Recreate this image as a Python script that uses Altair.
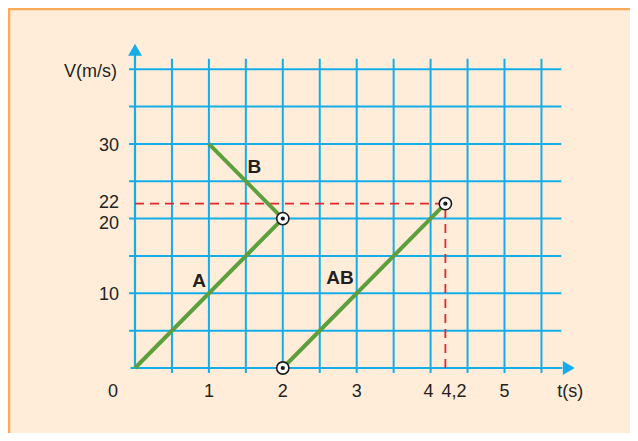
import altair as alt
import pandas as pd

# ---------------- data ----------------
grid_t = [0.5, 1, 1.5, 2, 2.5, 3, 3.5, 4, 4.5, 5, 5.5]
grid_v = [5, 10, 15, 20, 25, 30, 35, 40]

y_tick_values = [30, 10]
y_tick_labels = ["30", "10"]
x_tick_values = [1, 2, 3, 5]
x_tick_labels = ["1", "2", "3", "5"]

seg_names = ["A", "B", "AB"]
seg_t0 = [0, 1, 2]
seg_v0 = [0, 30, 0]
seg_t1 = [2, 2, 4.2]
seg_v1 = [20, 20, 22]

point_t = [2, 2, 4.2]
point_v = [20, 0, 22]

label_text = ["A", "B", "AB"]
label_t = [0.866, 1.615, 2.775]
label_v = [11.7, 26.95, 12.05]

mark_t = 4.2
mark_v = 22
crossing_v = 20

# ---------------- layout / style ----------------
W, H = 622, 425
PX_T, PX_V = 73.9, 7.47
T0_PX, V0_PX = 127, 360
x_dom = [-T0_PX / PX_T, (W - T0_PX) / PX_T]
y_dom = [(V0_PX - H) / PX_V, V0_PX / PX_V]
xs = alt.Scale(domain=x_dom, nice=False, zero=False)
ys = alt.Scale(domain=y_dom, nice=False, zero=False)

BG = "#FFEDDA"
ORANGE = "#FBAA58"
BLUE = "#14ADE9"
GREEN = "#5C9F3C"
RED = "#E8262B"
TXT = "#231F20"
FONT = "Liberation Sans"
FS = 18


def X(f="t"):
    return alt.X(f"{f}:Q", scale=xs, axis=None)


def Y(f="v"):
    return alt.Y(f"{f}:Q", scale=ys, axis=None)


def txt(df, **kw):
    base = dict(baseline="middle", font=FONT, fontSize=FS, color=TXT)
    base.update(kw)
    return alt.Chart(df).mark_text(**base).encode(x=X(), y=Y(), text="lab:N")


# grid
vgrid = alt.Chart(pd.DataFrame({"t": grid_t, "v0": -0.67, "v1": 41.4})).mark_rule(
    color=BLUE, strokeWidth=2
).encode(x=X("t"), y=Y("v0"), y2="v1:Q")

hgrid = alt.Chart(pd.DataFrame({"v": grid_v, "t0": -0.08, "t1": 5.77})).mark_rule(
    color=BLUE, strokeWidth=2
).encode(y=Y("v"), x=X("t0"), x2="t1:Q")

# axes
yaxis = alt.Chart(pd.DataFrame({"t": [0], "v0": [0], "v1": [41.9]})).mark_rule(
    color=BLUE, strokeWidth=2.2
).encode(x=X("t"), y=Y("v0"), y2="v1:Q")
xaxis = alt.Chart(pd.DataFrame({"v": [0], "t0": [-0.06], "t1": [5.78]})).mark_rule(
    color=BLUE, strokeWidth=2.2
).encode(y=Y("v"), x=X("t0"), x2="t1:Q")
arrow_up = alt.Chart(pd.DataFrame({"t": [0], "v": [42.6]})).mark_point(
    shape="triangle-up", filled=True, color=BLUE, size=190, opacity=1
).encode(x=X(), y=Y())
arrow_right = alt.Chart(pd.DataFrame({"t": [5.87], "v": [0]})).mark_point(
    shape="triangle-right", filled=True, color=BLUE, size=190, opacity=1
).encode(x=X(), y=Y())

# dashed guides
dash_h = alt.Chart(pd.DataFrame({"v": [mark_v], "t0": [0], "t1": [mark_t]})).mark_rule(
    color=RED, strokeWidth=1.8, strokeDash=[9, 6]
).encode(y=Y("v"), x=X("t0"), x2="t1:Q")
dash_v = alt.Chart(pd.DataFrame({"t": [mark_t], "v0": [0], "v1": [mark_v]})).mark_rule(
    color=RED, strokeWidth=1.8, strokeDash=[9, 6]
).encode(x=X("t"), y=Y("v0"), y2="v1:Q")

# green segments
segs = alt.Chart(pd.DataFrame({"name": seg_names, "t0": seg_t0, "v0": seg_v0,
                               "t1": seg_t1, "v1": seg_v1})).mark_rule(
    color=GREEN, strokeWidth=4
).encode(x=X("t0"), y=Y("v0"), x2="t1:Q", y2="v1:Q")

# circle markers
pts_df = pd.DataFrame({"t": point_t, "v": point_v})
circles = alt.Chart(pts_df).mark_point(
    shape="circle", filled=True, fill="white", stroke="#1a1a1a", strokeWidth=1.6,
    size=150, opacity=1
).encode(x=X(), y=Y())
dots = alt.Chart(pts_df).mark_point(
    shape="circle", filled=True, color="#1a1a1a", size=18, opacity=1
).encode(x=X(), y=Y())

# tick labels
YL_T = -0.2165
ylab = txt(pd.DataFrame({"v": y_tick_values, "lab": y_tick_labels, "t": YL_T}), align="right", dy=2)
ylab22 = txt(pd.DataFrame({"v": [mark_v], "lab": ["22"], "t": [YL_T]}), align="right", dy=-1)
ylab20 = txt(pd.DataFrame({"v": [crossing_v], "lab": ["20"], "t": [YL_T]}), align="right", dy=5)

XL_V = -3.21
xlab = txt(pd.DataFrame({"t": x_tick_values, "lab": x_tick_labels, "v": XL_V}), align="center")
xlab0 = txt(pd.DataFrame({"t": [0], "lab": ["0"], "v": [XL_V]}), align="center", dx=-22)
xlab4 = txt(pd.DataFrame({"t": [4], "lab": ["4"], "v": [XL_V]}), align="right", dx=3)
xlab42 = txt(pd.DataFrame({"t": [mark_t], "lab": ["4,2"], "v": [XL_V]}), align="left", dx=-4)

# axis titles
ytitle = txt(pd.DataFrame({"t": [-0.244], "v": [39.6], "lab": ["V(m/s)"]}), align="right")
xtitle = txt(pd.DataFrame({"t": [5.89], "v": [XL_V], "lab": ["t(s)"]}), align="center")

# segment names
names = txt(pd.DataFrame({"t": label_t, "v": label_v, "lab": label_text}),
            align="center", fontSize=19, fontWeight="bold")

# frame (left and top orange border)
frame_l = alt.Chart(pd.DataFrame({"a": [0]})).mark_rule(color=ORANGE, strokeWidth=2.5).encode(
    x=alt.value(1), y=alt.value(0), y2=alt.value(H))
frame_t = alt.Chart(pd.DataFrame({"a": [0]})).mark_rule(color=ORANGE, strokeWidth=2.5).encode(
    y=alt.value(1), x=alt.value(0), x2=alt.value(W))

chart = alt.layer(
    vgrid, hgrid, yaxis, xaxis, arrow_up, arrow_right, dash_h, dash_v, segs,
    circles, dots, ylab, ylab22, ylab20, xlab, xlab0, xlab4, xlab42, ytitle, xtitle, names,
    frame_l, frame_t
).properties(
    width=W, height=H, background=BG, padding=0,
    autosize=alt.AutoSizeParams(type="none")
).configure_view(stroke=None)

chart.save("out.html", embed_options={"renderer": "svg", "actions": False})
